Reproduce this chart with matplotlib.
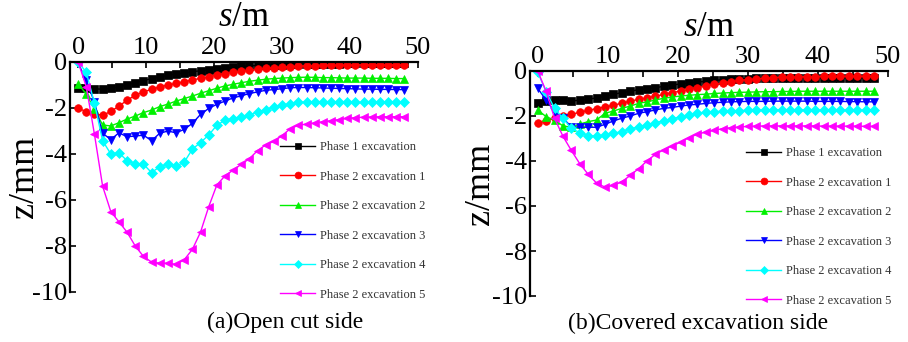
import numpy as np
import matplotlib
matplotlib.use("Agg")
import matplotlib.pyplot as plt
from matplotlib.ticker import MultipleLocator

plt.rcParams['font.family'] = ['Liberation Serif', 'DejaVu Serif']
plt.rcParams['mathtext.fontset'] = 'custom'
plt.rcParams['mathtext.it'] = 'Liberation Serif:italic'
plt.rcParams['mathtext.rm'] = 'Liberation Serif'
plt.rcParams['axes.unicode_minus'] = False

# distance from the pit edge, m (same stations for every curve)
s = np.round(np.arange(41) * 1.2, 1)

labels = ["Phase 1 excavation", "Phase 2 excavation 1", "Phase 2 excavation 2",
          "Phase 2 excavation 3", "Phase 2 excavation 4", "Phase 2 excavation 5"]
colors = ["#000000", "#ff0000", "#00f000", "#0000ff", "#00ffff", "#ff00ff"]
markers = ["s", "o", "^", "v", "D", "<"]

# (a) open cut side, settlement z in mm
open_p1 = [-1.12, -1.15, -1.17, -1.18, -1.15, -1.08, -1.0, -0.9, -0.81, -0.72,
           -0.65, -0.58, -0.52, -0.48, -0.42, -0.38, -0.34, -0.3, -0.26, -0.22,
           -0.19, -0.17, -0.15, -0.13, -0.12, -0.11, -0.1, -0.09, -0.08, -0.08,
           -0.07, -0.07, -0.07, -0.06, -0.06, -0.06, -0.06, -0.06, -0.06, -0.06, -0.06]
open_p2_1 = [-2.01, -2.16, -2.25, -2.32, -2.15, -1.92, -1.66, -1.45, -1.3, -1.19,
             -1.08, -1.0, -0.93, -0.86, -0.78, -0.71, -0.64, -0.57, -0.5, -0.45,
             -0.4, -0.36, -0.32, -0.28, -0.25, -0.22, -0.2, -0.18, -0.17, -0.16,
             -0.15, -0.14, -0.14, -0.13, -0.13, -0.12, -0.12, -0.12, -0.12, -0.12, -0.12]
open_p2_2 = [-0.95, -1.4, -2.05, -2.74, -2.78, -2.64, -2.48, -2.35, -2.2, -2.09,
             -1.94, -1.83, -1.7, -1.59, -1.48, -1.36, -1.25, -1.14, -1.04, -0.97,
             -0.9, -0.84, -0.79, -0.75, -0.72, -0.7, -0.68, -0.67, -0.66, -0.67,
             -0.68, -0.68, -0.69, -0.7, -0.7, -0.7, -0.71, -0.71, -0.71, -0.72, -0.72]
open_p2_3 = [-0.05, -0.8, -1.75, -3.1, -3.37, -3.08, -3.25, -3.22, -3.18, -3.42,
             -3.1, -3.0, -3.08, -2.93, -2.67, -2.28, -2.02, -1.84, -1.7, -1.56,
             -1.47, -1.37, -1.3, -1.23, -1.2, -1.16, -1.12, -1.11, -1.11, -1.12,
             -1.13, -1.14, -1.15, -1.16, -1.17, -1.18, -1.18, -1.19, -1.19, -1.2, -1.2]
open_p2_4 = [0.0, -0.45, -1.8, -3.42, -4.0, -3.95, -4.29, -4.44, -4.44, -4.81,
             -4.55, -4.44, -4.52, -4.36, -3.79, -3.5, -3.18, -2.75, -2.53, -2.46,
             -2.38, -2.31, -2.17, -2.07, -1.95, -1.88, -1.81, -1.76, -1.74, -1.74,
             -1.74, -1.75, -1.75, -1.75, -1.76, -1.76, -1.76, -1.76, -1.76, -1.76, -1.76]
open_p2_5 = [0.0, -1.08, -3.15, -5.4, -6.5, -6.95, -7.4, -8.0, -8.45, -8.7,
             -8.75, -8.75, -8.8, -8.6, -8.15, -7.4, -6.3, -5.35, -4.95, -4.7,
             -4.45, -4.2, -3.85, -3.6, -3.45, -3.2, -2.9, -2.75, -2.7, -2.65,
             -2.6, -2.55, -2.5, -2.45, -2.42, -2.4, -2.39, -2.38, -2.38, -2.38, -2.38]

# (b) covered excavation side
cov_p1 = [-1.42, -1.32, -1.3, -1.3, -1.33, -1.3, -1.26, -1.19, -1.13, -1.04,
          -0.96, -0.9, -0.83, -0.79, -0.74, -0.68, -0.63, -0.57, -0.53, -0.49,
          -0.46, -0.42, -0.39, -0.37, -0.35, -0.34, -0.33, -0.33, -0.32, -0.32,
          -0.32, -0.32, -0.32, -0.31, -0.31, -0.31, -0.31, -0.31, -0.31, -0.31, -0.31]
cov_p2_1 = [-2.31, -2.22, -2.1, -2.01, -1.93, -1.83, -1.75, -1.67, -1.6, -1.52,
            -1.43, -1.34, -1.26, -1.19, -1.12, -1.04, -0.96, -0.89, -0.82, -0.74,
            -0.67, -0.6, -0.53, -0.47, -0.42, -0.38, -0.35, -0.32, -0.3, -0.28,
            -0.27, -0.26, -0.25, -0.25, -0.24, -0.24, -0.24, -0.24, -0.24, -0.24, -0.24]
cov_p2_2 = [-1.73, -2.03, -2.18, -2.44, -2.5, -2.36, -2.25, -2.18, -1.88, -1.78,
            -1.66, -1.56, -1.44, -1.37, -1.29, -1.21, -1.16, -1.11, -1.08, -1.05,
            -1.03, -1.0, -0.98, -0.96, -0.95, -0.94, -0.93, -0.92, -0.92, -0.91,
            -0.91, -0.9, -0.9, -0.9, -0.9, -0.9, -0.9, -0.9, -0.9, -0.9, -0.9]
cov_p2_3 = [-0.77, -1.29, -1.81, -2.1, -2.47, -2.5, -2.5, -2.5, -2.37, -2.22,
            -2.1, -2.0, -1.88, -1.81, -1.73, -1.66, -1.62, -1.56, -1.51, -1.48,
            -1.44, -1.41, -1.39, -1.37, -1.36, -1.35, -1.35, -1.35, -1.34, -1.34,
            -1.34, -1.34, -1.34, -1.35, -1.35, -1.35, -1.35, -1.36, -1.36, -1.37, -1.37]
cov_p2_4 = [-0.05, -0.92, -1.66, -2.1, -2.55, -2.74, -2.89, -2.89, -2.84, -2.77,
            -2.7, -2.59, -2.47, -2.4, -2.3, -2.21, -2.13, -2.03, -1.96, -1.88,
            -1.84, -1.81, -1.79, -1.77, -1.76, -1.75, -1.74, -1.74, -1.73, -1.73,
            -1.73, -1.73, -1.73, -1.74, -1.74, -1.74, -1.74, -1.74, -1.75, -1.75, -1.75]
cov_p2_5 = [0.0, -0.9, -2.1, -2.9, -3.53, -4.12, -4.59, -4.98, -5.16, -5.08,
            -4.93, -4.64, -4.34, -4.0, -3.7, -3.5, -3.33, -3.16, -2.96, -2.81,
            -2.71, -2.64, -2.56, -2.52, -2.49, -2.46, -2.45, -2.44, -2.44, -2.44,
            -2.44, -2.44, -2.44, -2.44, -2.45, -2.45, -2.45, -2.45, -2.45, -2.46, -2.46]

open_side = [open_p1, open_p2_1, open_p2_2, open_p2_3, open_p2_4, open_p2_5]
covered_side = [cov_p1, cov_p2_1, cov_p2_2, cov_p2_3, cov_p2_4, cov_p2_5]

W, H = 908, 342
fig = plt.figure(figsize=(W / 100, H / 100), dpi=100)


def px_box(x0, x1, ytop, ybot):
    return [x0 / W, 1 - ybot / H, (x1 - x0) / W, (ybot - ytop) / H]


def panel(box, series, xlim, tick_fs, leg_anchor, caption, cap_xy, xlab_y, ylab_x):
    ax = fig.add_axes(box)
    for ys, lab, c, m in zip(series, labels, colors, markers):
        ms = 5 if m == "D" else 5.5
        ax.plot(s, ys, color=c, marker=m, markersize=ms, lw=1.0,
                markeredgewidth=0.5, label=lab)
    ax.set_xlim(*xlim)
    ax.set_ylim(-10, 0)
    ax.xaxis.tick_top()
    ax.xaxis.set_major_locator(MultipleLocator(10))
    ax.xaxis.set_minor_locator(MultipleLocator(5))
    ax.yaxis.set_major_locator(MultipleLocator(2))
    ax.spines['right'].set_visible(False)
    ax.spines['bottom'].set_visible(False)
    for sp in ('top', 'left'):
        ax.spines[sp].set_linewidth(1.6)
    ax.tick_params(which='both', direction='in', length=4, width=1.2,
                   labelsize=tick_fs, pad=2)
    ax.tick_params(axis='y', which='both', right=False)
    # axis titles placed at the positions seen in the picture
    cx = (box[0] + box[0] + box[2]) / 2
    fig.text(cx, 1 - xlab_y / H, r'$\it{s}$/m', fontsize=25,
             ha='center', va='center')
    cy = box[1] + box[3] / 2
    fig.text(ylab_x / W, cy, 'z/mm', fontsize=26, rotation=90,
             ha='center', va='center')
    leg = ax.legend(loc='upper left', bbox_to_anchor=leg_anchor,
                    bbox_transform=fig.transFigure, frameon=False,
                    fontsize=9, handlelength=2.8, handletextpad=0.4,
                    labelspacing=1.4, borderpad=0, numpoints=1,
                    markerscale=0.9)
    for t in leg.get_texts():
        t.set_color('#333333')
    fig.text(cap_xy[0] / W, 1 - cap_xy[1] / H, caption, fontsize=17,
             ha='center', va='center')
    return ax


panel(px_box(70, 418, 62, 292), open_side, (-1.2, 50), 19,
      (274 / W, 1 - 135 / H), "(a)Open cut side", (285, 322), 18, 24)
panel(px_box(530, 888, 71, 296), covered_side, (-1.1, 50), 19,
      (740 / W, 1 - 141 / H), "(b)Covered excavation side", (698, 323), 27, 481)

fig.savefig("out.png", dpi=100)
